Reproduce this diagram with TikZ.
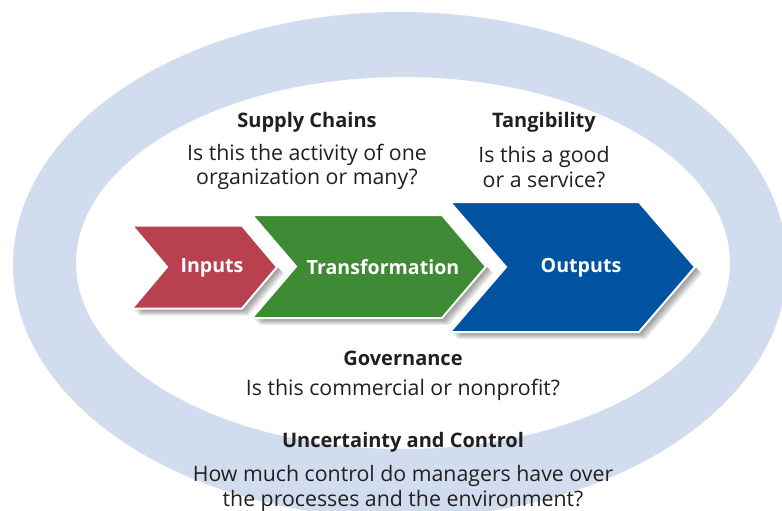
\documentclass[tikz,border=0pt]{standalone}
\usepackage{fontspec}
\setmainfont{Open Sans}
\usetikzlibrary{shadows}
\definecolor{ringblue}{HTML}{D1DDEE}
\definecolor{inred}{HTML}{B8404F}
\definecolor{trgreen}{HTML}{3F8A34}
\definecolor{outblue}{HTML}{0053A0}
\definecolor{txt}{HTML}{231F20}
\tikzset{
  chev/.style={draw=white, line width=2pt, line join=miter},
  shad/.style={fill=black, opacity=0.07},
  chevlabel/.style={text=white, font=\bfseries\fontsize{19.6}{22}\selectfont, inner sep=0pt},
  head/.style={text=txt, font=\bfseries\fontsize{20}{24}\selectfont, inner sep=0pt},
  body/.style={text=txt, font=\fontsize{21.3}{24.8}\selectfont, align=center, inner sep=0pt},
}
\newcommand{\chevpath}[6]{% left notch right tip top bottom
  (#1,#5) -- (#3,#5) -- (#4,{(#5+#6)/2}) -- (#3,#6) -- (#1,#6) -- (#2,{(#5+#6)/2}) -- cycle}
\begin{document}
\begin{tikzpicture}[x=1pt,y=-1pt]
\useasboundingbox (0,0) rectangle (782,511);
\clip (0,0) rectangle (782,511);
\fill[white] (0,0) rectangle (782,511);
% ring
\fill[ringblue, even odd rule] (400,265) ellipse [x radius=387pt, y radius=253pt]
  (403,263) ellipse [x radius=327pt, y radius=186pt];
% shadows (soft, layered)
\foreach \d in {2,3,4,5,6,7}{
  \fill[shad] [shift={(\d,\d)}] \chevpath{132}{167}{242}{277}{225.5}{308.5};
  \fill[shad] [shift={(\d,\d)}] \chevpath{252}{296}{442}{486}{215}{318};
  \fill[shad] [shift={(\d,\d)}] \chevpath{450}{506}{639}{695}{202}{332};
}
% chevrons
\fill[inred] \chevpath{132}{167}{242}{277}{225.5}{308.5};
\draw[chev] \chevpath{132}{167}{242}{277}{225.5}{308.5};
\fill[trgreen] \chevpath{252}{296}{442}{486}{215}{318};
\draw[chev] \chevpath{252}{296}{442}{486}{215}{318};
\fill[outblue] \chevpath{450}{506}{639}{695}{202}{332};
\draw[chev] \chevpath{450}{506}{639}{695}{202}{332};
\node[chevlabel] (inputs) at (212,267.5) {Inputs};
\node[chevlabel] (transf) at (383,267.5) {Transformation};
\node[chevlabel] (outputs) at (581,267.5) {Outputs};
% texts
\node[head] (sc) at (307,122.5) {Supply Chains};
\node[body] (scq) at (307,167) {Is this the activity of one\\organization or many?};
\node[head] (tg) at (544,122.5) {Tangibility};
\node[body] (tgq) at (544,167) {Is this a good\\or a service?};
\node[head] (gov) at (403,358.5) {Governance};
\node[body] (govq) at (403,389.5) {Is this commercial or nonprofit?};
\node[head] (uc) at (403,442.5) {Uncertainty and Control};
\node[body] (ucq) at (403,488.5) {How much control do managers have over\\the processes and the environment?};
\end{tikzpicture}
\end{document}
